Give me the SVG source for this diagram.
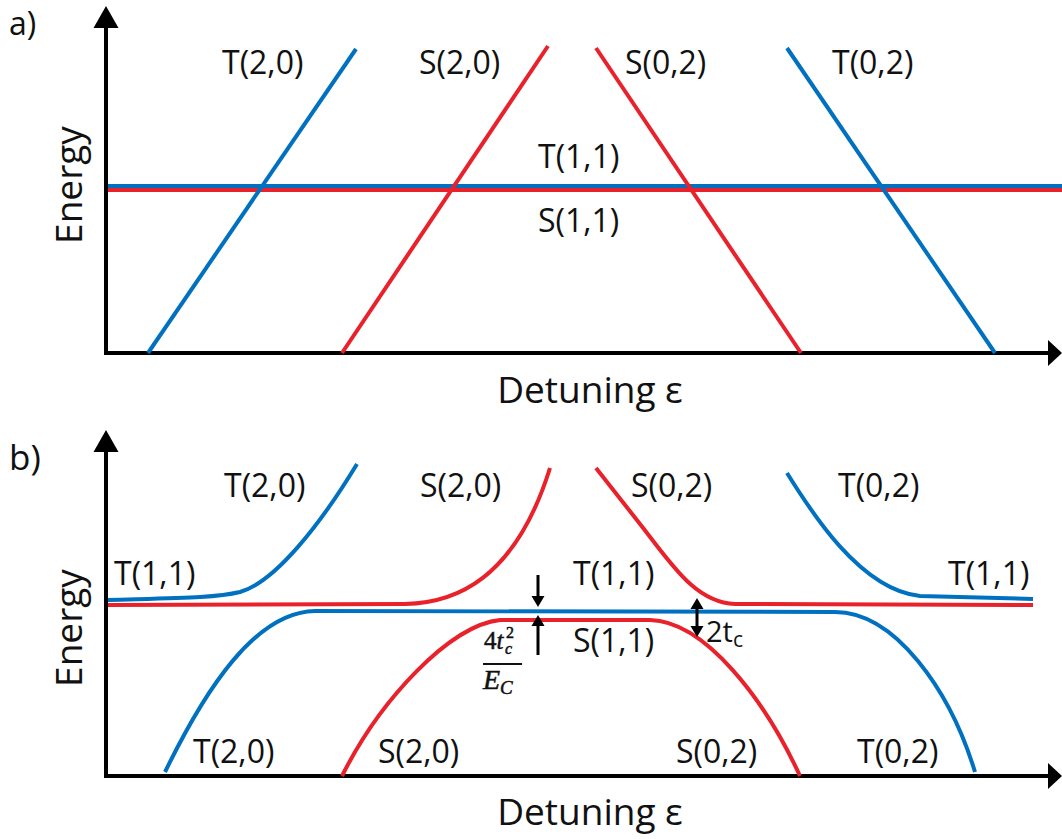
<svg xmlns="http://www.w3.org/2000/svg" width="1062" height="839" viewBox="0 0 1062 839">
<style>
.lbl{font-family:"Open Sans","Noto Sans","Liberation Sans",sans-serif;font-size:32px;fill:#111}
.big{font-family:"Open Sans","Noto Sans","Liberation Sans",sans-serif;font-size:37px;fill:#111}
.ax{stroke:#000;stroke-width:4;fill:none}
.blue{stroke:#0070C0;stroke-width:4;fill:none}
.red{stroke:#E8212B;stroke-width:4;fill:none}
.arw{stroke:#000;stroke-width:3;fill:none}
.math{font-family:"Liberation Serif","DejaVu Serif",serif;font-style:italic;fill:#111;stroke:#111;stroke-width:0.5}
</style>
<rect width="1062" height="839" fill="#fff"/>

<g id="panel-a">
  <g id="axes-a">
    <line class="ax" x1="106" y1="355" x2="106" y2="26"/>
    <polygon points="106,6 93.5,28 118.5,28" fill="#000"/>
    <line class="ax" x1="104" y1="353" x2="1050" y2="353"/>
    <polygon points="1062,353 1048,340 1048,366" fill="#000"/>
  </g>
  <g id="curves-a">
    <line class="red" x1="108" y1="190" x2="1062" y2="190"/>
    <line class="blue" x1="108" y1="186" x2="1062" y2="186"/>
    <line class="blue" x1="148" y1="353" x2="356" y2="49"/>
    <line class="red" x1="342" y1="353" x2="548" y2="46"/>
    <line class="red" x1="596" y1="48" x2="801" y2="353"/>
    <line class="blue" x1="787" y1="48" x2="995" y2="353"/>
  </g>
  <g id="labels-a">
    <text class="lbl" x="9" y="35" style="font-size:32px">a)</text>
    <text class="lbl" x="222" y="74">T(2,0)</text>
    <text class="lbl" x="419" y="74">S(2,0)</text>
    <text class="lbl" x="625" y="74">S(0,2)</text>
    <text class="lbl" x="832" y="74">T(0,2)</text>
    <text class="lbl" x="538" y="168">T(1,1)</text>
    <text class="lbl" x="538" y="232">S(1,1)</text>
    <text class="big" transform="translate(82,185) rotate(-90)" text-anchor="middle">Energy</text>
    <text class="big" x="590" y="403" text-anchor="middle">Detuning ε</text>
  </g>
</g>

<g id="panel-b">
  <g id="axes-b">
    <line class="ax" x1="106" y1="778" x2="106" y2="450"/>
    <polygon points="106,430 93.5,452 118.5,452" fill="#000"/>
    <line class="ax" x1="104" y1="776" x2="1050" y2="776"/>
    <polygon points="1062,776 1048,763 1048,789" fill="#000"/>
  </g>
  <g id="curves-b">
    <path class="red" d="M108 605 L405 604 C455 603 515 580 550 468"/>
    <path class="red" d="M596 468 L640 524 C670 562 695 603 735 604 L1033 605"/>
    <path class="blue" d="M108 600 C180 598 215 598 240 592 C275 582 320 525 357 464"/>
    <path class="blue" d="M787 473 C810 510 860 590 920 596 L1033 599"/>
    <path class="blue" d="M165 772 C205 690 255 612 315 611 L835 612 C895 612 950 690 975 772"/>
    <path class="red" d="M342 776 C380 700 450 625 500 620 L650 620 C705 621 765 700 800 776"/>
  </g>
  <g id="arrows-b">
    <line class="arw" x1="538" y1="575" x2="538" y2="599"/>
    <polygon points="531.5,596 544.5,596 538,607" fill="#000"/>
    <line class="arw" x1="538" y1="623" x2="538" y2="655"/>
    <polygon points="531.5,626 544.5,626 538,615" fill="#000"/>
    <line class="arw" x1="697" y1="606" x2="697" y2="629"/>
    <polygon points="690.5,609 703.5,609 697,598" fill="#000"/>
    <polygon points="690.5,626 703.5,626 697,637" fill="#000"/>
  </g>
  <g id="labels-b">
    <text class="lbl" x="9" y="470" style="font-size:35px">b)</text>
    <text class="lbl" x="224" y="497">T(2,0)</text>
    <text class="lbl" x="420" y="497">S(2,0)</text>
    <text class="lbl" x="631" y="497">S(0,2)</text>
    <text class="lbl" x="838" y="497">T(0,2)</text>
    <text class="lbl" x="114" y="585">T(1,1)</text>
    <text class="lbl" x="573" y="585">T(1,1)</text>
    <text class="lbl" x="948" y="585">T(1,1)</text>
    <text class="lbl" x="573" y="652">S(1,1)</text>
    <text class="lbl" x="193" y="763">T(2,0)</text>
    <text class="lbl" x="378" y="763">S(2,0)</text>
    <text class="lbl" x="676" y="763">S(0,2)</text>
    <text class="lbl" x="857" y="763">T(0,2)</text>
    <text class="lbl" x="706" y="642" style="font-size:29px">2t<tspan dy="5" style="font-size:21px">c</tspan></text>
    <g id="fraction">
      <text class="math" x="484" y="649" style="font-size:25px"><tspan style="font-style:normal">4</tspan>t</text>
      <text class="math" x="506" y="638" style="font-size:16px;font-style:normal">2</text>
      <text class="math" x="505" y="654" style="font-size:16px">c</text>
      <line x1="483" y1="664" x2="522" y2="664" stroke="#111" stroke-width="1.8"/>
      <text class="math" x="483" y="689" style="font-size:28px">E<tspan dy="5" style="font-size:19px">C</tspan></text>
    </g>
    <text class="big" transform="translate(82,628) rotate(-90)" text-anchor="middle">Energy</text>
    <text class="big" x="590" y="825" text-anchor="middle">Detuning ε</text>
  </g>
</g>
</svg>
